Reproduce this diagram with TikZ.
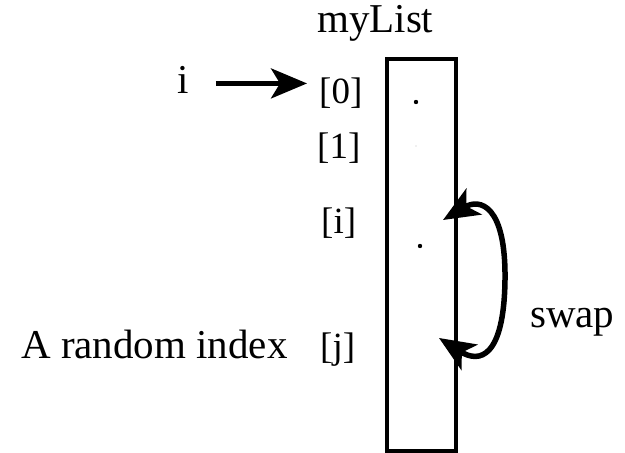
\documentclass[tikz,border=0pt]{standalone}
\usepackage{fontspec}
\setmainfont{Liberation Serif}
\usepackage{tikz}
\usetikzlibrary{arrows.meta, positioning, calc}

\begin{document}
\begin{tikzpicture}[x=1pt, y=-1pt,
    lbl/.style={font=\fontsize{41}{49}\selectfont, inner sep=0pt, anchor=base west},
    idx/.style={font=\fontsize{37}{44}\selectfont, inner sep=0pt, anchor=base west},
    cell/.style={draw, line width=3.5pt, inner sep=0pt, minimum width=69pt, minimum height=392pt}]
  \useasboundingbox (0,0) rectangle (625,453);

  % The list and its name
  \node[cell] (arr) at (421.5, 255) {};
  \node[lbl] (listname) at (317, 32) {myList};

  % Index labels
  \node[idx] (idx0) at (319, 103) {[0]};
  \node[idx] (idx1) at (317, 158) {[1]};
  \node[idx] (idxi) at (321, 233) {[i]};
  \node[idx] (idxj) at (320, 358) {[j]};

  % Elements
  \fill (416, 102) circle (2.2pt);
  \fill[black!12] (416, 146) circle (0.8pt);
  \fill (420, 246) circle (2.2pt);

  % i points at the first cell
  \node[lbl] (ivar) at (177, 93) {i};
  \draw[-{Stealth[length=36pt, width=30pt, inset=9pt]}, line width=4.5pt, shorten <=27pt, shorten >=12pt]
    ([yshift=-4pt]ivar.east) -- ([yshift=-4pt]ivar.east -| idx0.west);

  \node[lbl] (rand) at (21, 358) {A random index};

  % Swap
  \coordinate (swapi) at (443, 220);
  \coordinate (swapj) at (439, 338);
  \draw[{Stealth[length=36pt, width=30pt, inset=9pt]}-{Stealth[length=36pt, width=30pt, inset=9pt]}, line width=5.5pt]
    (swapi) .. controls (480, 198) and (506, 205) .. (505, 280)
    .. controls (504, 357) and (480, 364) .. (swapj);
  \node[lbl] (swaplbl) at (530, 327) {swap};
\end{tikzpicture}
\end{document}
